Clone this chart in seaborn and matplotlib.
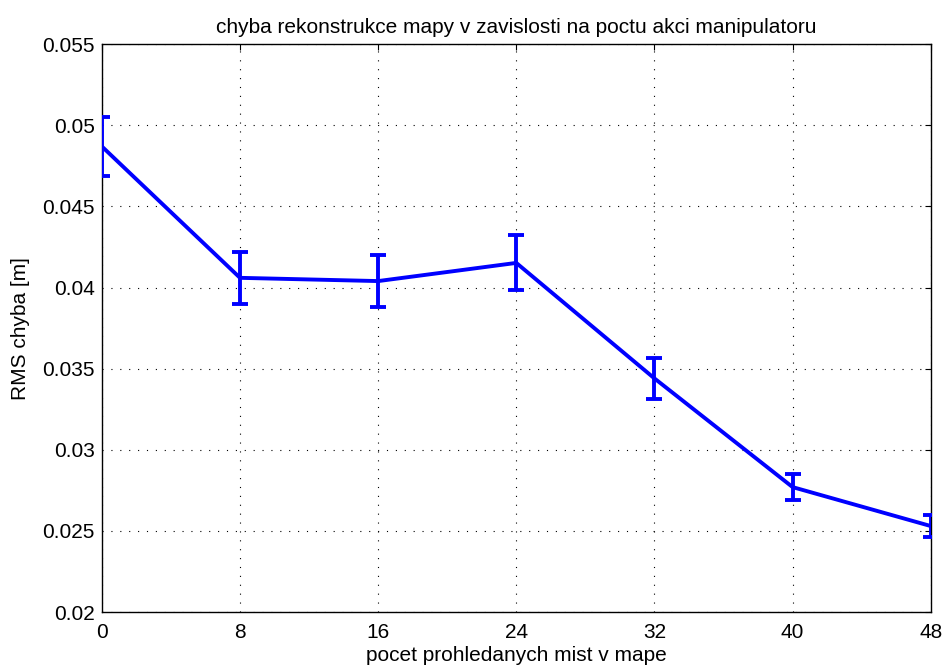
import matplotlib
matplotlib.use("Agg")
import matplotlib.pyplot as plt
import seaborn as sns
import pandas as pd

# Data
x_vals = [0, 8, 16, 24, 32, 40, 48]
rms_err = [0.0487, 0.0406, 0.0404, 0.04152, 0.0344, 0.0277, 0.0253]
err_half = [0.0018, 0.0016, 0.0016, 0.0017, 0.00125, 0.0008, 0.00067]
x_ticks = [0, 8, 16, 24, 32, 40, 48]
y_ticks = [0.02, 0.025, 0.03, 0.035, 0.04, 0.045, 0.05, 0.055]
y_tick_labels = ["0.02", "0.025", "0.03", "0.035", "0.04", "0.045", "0.05", "0.055"]

df = pd.DataFrame({"x": x_vals, "y": rms_err, "e": err_half})

sns.set_style("white")
plt.rcParams["font.family"] = ["Liberation Sans", "DejaVu Sans"]
plt.rcParams["text.color"] = "black"
plt.rcParams["axes.labelcolor"] = "black"
plt.rcParams["xtick.color"] = "black"
plt.rcParams["ytick.color"] = "black"

fig = plt.figure(figsize=(9.43, 6.68), dpi=100)
ax = fig.add_axes([0.108, 0.0838, 0.879, 0.850])

ax.errorbar(df["x"], df["y"], yerr=df["e"], fmt="none", ecolor="#0000ff",
            elinewidth=2.8, capsize=6, capthick=2.8, zorder=3)
sns.lineplot(data=df, x="x", y="y", ax=ax, color="#0000ff", linewidth=2.8,
             zorder=4)

ax.set_xlim(0, 48)
ax.set_ylim(0.02, 0.055)
ax.set_xticks(x_ticks)
ax.set_xticklabels([str(t) for t in x_ticks])
ax.set_yticks(y_ticks)
ax.set_yticklabels(y_tick_labels)
ax.tick_params(direction="in", top=True, right=True, length=4, width=0.8,
               labelsize=15, colors="black")
ax.tick_params(axis="x", pad=8)
ax.tick_params(axis="y", pad=5)
ax.grid(True, linestyle=(0, (1, 7)), color="black", linewidth=0.8)
for s in ax.spines.values():
    s.set_color("black")
    s.set_linewidth(1.0)

ax.set_xlabel("pocet prohledanych mist v mape", fontsize=15, labelpad=3,
              color="black")
ax.set_ylabel("RMS chyba [m]", fontsize=15, labelpad=9, color="black")
ax.set_title("chyba rekonstrukce mapy v zavislosti na poctu akci manipulatoru",
             fontsize=15, pad=8, color="black")

fig.savefig("out.png", dpi=100)
